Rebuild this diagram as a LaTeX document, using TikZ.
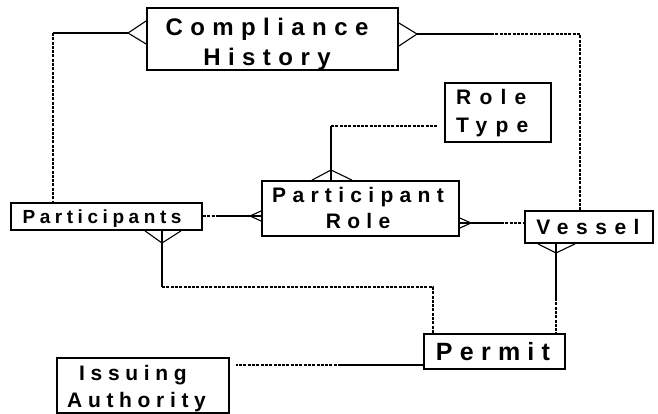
\documentclass[tikz,border=0pt]{standalone}
\usepackage{fontspec}
\setmainfont{Liberation Sans}
% tracked (letter-spaced) sans faces for the entity names
\newfontfamily\trackCH[LetterSpace=31]{Liberation Sans}
\newfontfamily\trackRT[LetterSpace=39]{Liberation Sans}
\newfontfamily\trackPR[LetterSpace=30]{Liberation Sans}
\newfontfamily\trackP[LetterSpace=24]{Liberation Sans}
\newfontfamily\trackV[LetterSpace=36]{Liberation Sans}
\newfontfamily\trackPM[LetterSpace=29]{Liberation Sans}
\newfontfamily\trackIA[LetterSpace=27]{Liberation Sans}
\usetikzlibrary{calc}

\begin{document}
\begin{tikzpicture}[x=1pt,y=-1pt,
  entity/.style={draw,line width=1.8pt,inner sep=0pt,fill=white},
  etext/.style={inner sep=0pt,align=center},
  link/.style={line width=1.6pt},
  optional/.style={line width=2.2pt,dash pattern=on 3pt off 1.3pt},
  prong/.style={line width=1.1pt,line join=miter}]
\useasboundingbox (0,0) rectangle (658,414);

% entity boxes
\node[entity,minimum width=251pt,minimum height=62pt] (CH) at (272.5,39) {};
\node[entity,minimum width=106pt,minimum height=59pt] (RT) at (498,112.5) {};
\node[entity,minimum width=197pt,minimum height=55pt] (PR) at (360.5,208.5) {};
\node[entity,minimum width=191pt,minimum height=27pt] (P)  at (106.5,216.5) {};
\node[entity,minimum width=128pt,minimum height=32pt] (V)  at (589,227) {};
\node[entity,minimum width=141pt,minimum height=35pt] (PM) at (494.5,351.5) {};
\node[entity,minimum width=172pt,minimum height=55pt] (IA) at (143,385.5) {};

% entity names
\node[etext,font=\trackCH\bfseries\fontsize{24}{30}\selectfont] (CHt) at (267,44.5)
  {\strut Compliance\\\strut History};
\node[etext,align=left,anchor=west,font=\trackRT\bfseries\fontsize{21}{28}\selectfont] (RTt) at (456,113.4)
  {\strut Role\\\strut Type};
\node[etext,font=\trackPR\bfseries\fontsize{21}{25}\selectfont] (PRt) at (358,210.5)
  {\strut Participant\\\strut Role};
\node[etext,font=\trackP\bfseries\fontsize{19}{22}\selectfont] (Pt) at (102,218.6)
  {\strut Participants};
\node[etext,font=\trackV\bfseries\fontsize{21}{25}\selectfont] (Vt) at (588,229)
  {\strut Vessel};
\node[etext,font=\trackPM\bfseries\fontsize{25}{30}\selectfont] (PMt) at (493,354)
  {\strut Permit};
\node[etext,align=left,anchor=west,font=\trackIA\bfseries\fontsize{21}{27}\selectfont] (IAt) at (67,388.1)
  {\strut\hspace*{12pt}Issuing\\\strut Authority};

% bend points and crow's-foot vertices
\coordinate (chl) at (128,33);
\coordinate (c1)  at (53,33);
\coordinate (chr) at (417,34);
\coordinate (c2a) at (491,34);
\coordinate (c2)  at (580,34);
\coordinate (prt) at (331,170);
\coordinate (c3)  at (331,126);
\coordinate (prl) at (250,216);
\coordinate (c4)  at (218,216);
\coordinate (prr) at (471,223);
\coordinate (c5)  at (501,223);
\coordinate (pb)  at (162,243);
\coordinate (c6)  at (162,287);
\coordinate (c7)  at (433,287);
\coordinate (vb)  at (556,253);
\coordinate (c8)  at (556,298);
\coordinate (c9)  at (341,365);

% Compliance History -- Participants
\draw[prong] ($(CH.west|-chl)+(0,-12)$) -- (chl) -- ($(CH.west|-chl)+(0,11)$);
\draw[link] (chl) -- (c1);
\draw[optional] (c1) -- (c1|-P.north);

% Compliance History -- Vessel
\draw[prong] ($(CH.east|-chr)+(0,-11)$) -- (chr) -- ($(CH.east|-chr)+(0,12)$);
\draw[link] (chr) -- (c2a);
\draw[optional] (c2a) -- (c2) -- (c2|-V.north);

% Participant Role -- Role Type
\draw[prong] ($(PR.north-|prt)+(-19,0)$) -- (prt) -- ($(PR.north-|prt)+(21,0)$);
\draw[link] (PR.north-|prt) -- (c3);
\draw[optional] (c3) -- ($(RT.west|-c3)+(-7,0)$);

% Participants -- Participant Role
\draw[prong] ($(PR.west|-prl)+(0,-5)$) -- (prl) -- ($(PR.west|-prl)+(0,5)$);
\draw[optional] (P.east|-prl) -- (c4);
\draw[link] (c4) -- (PR.west|-prl);

% Participant Role -- Vessel
\draw[prong] ($(PR.east|-prr)+(0,-5)$) -- (prr) -- ($(PR.east|-prr)+(0,5)$);
\draw[link] (PR.east|-prr) -- (c5);
\draw[optional] (c5) -- (V.west|-c5);

% Participants -- Permit
\draw[prong] ($(P.south-|pb)+(-17,0)$) -- (pb) -- ($(P.south-|pb)+(19,0)$);
\draw[link] (P.south-|pb) -- (c6);
\draw[optional] (c6) -- (c7) -- (c7|-PM.north);

% Vessel -- Permit
\draw[prong] ($(V.south-|vb)+(-18,0)$) -- (vb) -- ($(V.south-|vb)+(19,0)$);
\draw[link] (V.south-|vb) -- (c8);
\draw[optional] (c8) -- (c8|-PM.north);

% Permit -- Issuing Authority
\draw[link] (PM.west|-c9) -- (c9);
\draw[optional] (c9) -- ($(IA.east|-c9)+(6,0)$);
\end{tikzpicture}
\end{document}
